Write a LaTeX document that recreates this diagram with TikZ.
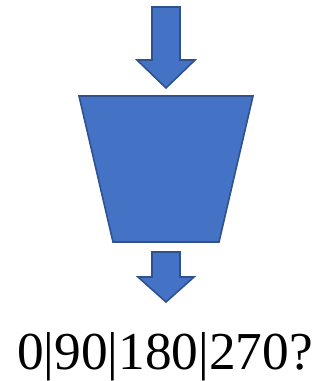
\documentclass[tikz,border=0pt]{standalone}
\usepackage{fontspec}
\setmainfont{Liberation Serif}
\definecolor{blockfill}{HTML}{4472C4}
\definecolor{blockline}{HTML}{2F528F}
\begin{document}
\begin{tikzpicture}[x=0.75pt,y=-0.75pt,
    block/.style={fill=blockfill, draw=blockline, line width=1.2pt, line join=miter}]
    \useasboundingbox (0,0) rectangle (321,381);

    % Input arrow
    \draw[block] (152,7) -- (180,7) -- (180,60) -- (195,60) -- (166,88)
        -- (137,60) -- (152,60) -- cycle;

    % Funnel
    \draw[block] (79,96) -- (253,96) -- (219,242) -- (113,242) -- cycle;
    \coordinate (funnel) at (166,169);

    % Output arrow
    \draw[block] (152,252) -- (180,252) -- (180,277) -- (194,277) -- (166,302)
        -- (138,277) -- (152,277) -- cycle;

    % Prediction
    \node[anchor=base, inner sep=0pt, font=\fontsize{40}{48}\selectfont] (pred) at (165,369) {0|90|180|270?};
\end{tikzpicture}
\end{document}
